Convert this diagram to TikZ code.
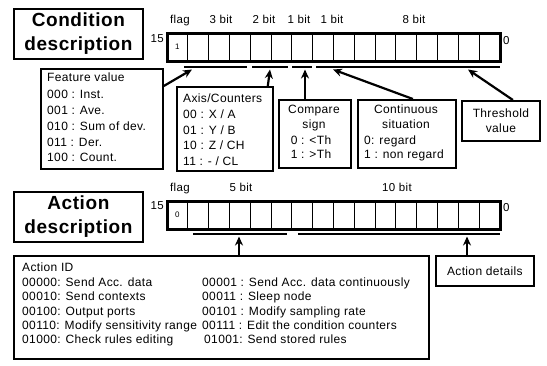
\documentclass[tikz,border=0pt]{standalone}
\usepackage{fontspec}
\setmainfont{Liberation Sans}[LetterSpace=3]
\usetikzlibrary{arrows.meta}
\newcommand\mybody{\fontsize{12}{14.5}\selectfont}
\newcommand\mytitle{\fontsize{19}{24}\selectfont\bfseries}
\newcommand\mylbl{\fontsize{11.5}{13}\selectfont}
\newcommand\mycell{\fontsize{8}{9}\selectfont}
\begin{document}
\begin{tikzpicture}[x=1pt,y=-1pt,
  box/.style={draw, line width=1.8pt, inner sep=0pt, anchor=north west},
  ttl/.style={box, align=center, font=\mytitle},
  txt/.style={inner sep=0pt, anchor=west, font=\mybody, text height=8.5pt, text depth=2.5pt},
  ctxt/.style={txt, anchor=center},
  lbl/.style={inner sep=0pt, font=\mylbl, text height=8pt, text depth=2pt},
  cell/.style={line width=1pt},
  frame/.style={line width=3pt},
  uline/.style={line width=2.6pt},
  arr/.style={line width=2.2pt, -{Stealth[length=9pt,width=8pt]}}]
\useasboundingbox (0,0) rectangle (547,365);

% ---------- Condition ----------
\node[ttl, minimum width=129pt, minimum height=50pt] (ctitle) at (13,8) {Condition\\description};

\foreach \i in {0,...,15}{\draw[cell] ({167+\i*20.8125},33) rectangle ++(20.8125,28);}
\draw[frame] (167,33) rectangle (500,61);
\node[font=\mycell, inner sep=0pt] (cflag) at (177.4,47) {1};
\node[lbl, anchor=east] (c15) at (164,39) {15};
\node[lbl, anchor=west] (c0) at (503,41) {0};
\node[lbl] (l1) at (180,20) {flag};
\node[lbl] (l2) at (221,20) {3 bit};
\node[lbl] (l3) at (264,20) {2 bit};
\node[lbl] (l4) at (299,20) {1 bit};
\node[lbl] (l5) at (332,20) {1 bit};
\node[lbl] (l6) at (414,20) {8 bit};

\draw[uline] (184,67) -- (247,67);
\draw[uline] (252,67) -- (288,67);
\draw[uline] (292,67) -- (312,67);
\draw[uline] (316,67) -- (500,67);
\coordinate (t1) at (192,69.5);
\coordinate (t2) at (270,69.5);
\coordinate (t3) at (305,69.5);
\coordinate (t4) at (333,69.5);
\coordinate (t5) at (468,69.5);

% feature value
\node[box, minimum width=122pt, minimum height=100pt] (feat) at (40,68) {};
\node[txt] at (47,78) {Feature value};
\node[txt] at (47,95) {000 : Inst.};
\node[txt] at (47,111) {001 : Ave.};
\node[txt] at (47,127) {010 : Sum of dev.};
\node[txt] at (47,143) {011 : Der.};
\node[txt] at (47,158) {100 : Count.};

% axis
\node[box, minimum width=96pt, minimum height=84pt] (axis) at (176,86) {};
\node[txt] at (183,99) {Axis/Counters};
\node[txt] at (183,115) {00 : X / A};
\node[txt] at (183,131) {01 : Y / B};
\node[txt] at (183,146.5) {10 : Z / CH};
\node[txt] at (183,162) {11 :  - / CL};

% compare
\node[box, minimum width=72pt, minimum height=68pt] (cmp) at (278,99) {};
\node[ctxt] at (314,110) {Compare};
\node[ctxt] at (314,125) {sign};
\node[ctxt] at (311,141) {0 : <Th};
\node[ctxt] at (311,155) {1 : >Th};

% continuous
\node[box, minimum width=98pt, minimum height=68pt] (cont) at (357,99) {};
\node[ctxt] at (406,110) {Continuous};
\node[ctxt] at (406,125) {situation};
\node[txt] at (364,141) {0: regard};
\node[txt] at (364,155) {1 : non regard};

% threshold
\node[box, minimum width=78pt, minimum height=40pt, align=center, font=\mybody] (thr) at (461,100) {Threshold\\value};

\draw[arr] ([yshift=-18pt]feat.north east) -- (t1);
\draw[arr] ([xshift=-6pt]axis.north east) -- (t2);
\draw[arr] (cmp.north -| t3) -- (t3);
\draw[arr] ([xshift=6pt]cont.north) -- (t4);
\draw[arr] ([xshift=12pt]thr.north) -- (t5);

% ---------- Action ----------
\node[ttl, minimum width=129pt, minimum height=50pt] (atitle) at (13,191) {Action\\description};

\foreach \i in {0,...,15}{\draw[cell] ({167+\i*20.8125},201) rectangle ++(20.8125,28);}
\draw[frame] (167,201) rectangle (500,229);
\node[font=\mycell, inner sep=0pt] (aflag) at (177.4,215) {0};
\node[lbl, anchor=east] (a15) at (164,206) {15};
\node[lbl, anchor=west] (a0) at (503,208) {0};
\node[lbl] (m1) at (180,188) {flag};
\node[lbl] (m2) at (241,188) {5 bit};
\node[lbl] (m3) at (397,188) {10 bit};

\draw[uline] (193,234) -- (287,234);
\draw[uline] (298,234) -- (500,234);
\coordinate (s1) at (239,236.5);
\coordinate (s2) at (467,236.5);

\node[box, minimum width=415pt, minimum height=103pt] (aid) at (13,255) {};
\node[txt] at (22,268) {Action ID};
\node[txt] at (22,283) {00000: Send Acc. data};
\node[txt] at (22,297) {00010: Send contexts};
\node[txt] at (22,312) {00100: Output ports};
\node[txt] at (22,326) {00110: Modify sensitivity range};
\node[txt] at (22,340) {01000: Check rules editing};
\node[txt] at (202,283) {00001 : Send Acc. data continuously};
\node[txt] at (202,297) {00011 : Sleep node};
\node[txt] at (202,312) {00101 : Modify sampling rate};
\node[txt] at (202,326) {00111 : Edit the condition counters};
\node[txt] at (204,340) {01001: Send stored rules};

\node[box, minimum width=98pt, minimum height=30pt, font=\mybody] (adet) at (435,255) {Action details};

\draw[arr] (aid.north -| s1) -- (s1);
\draw[arr] (adet.north -| s2) -- (s2);
\end{tikzpicture}
\end{document}
